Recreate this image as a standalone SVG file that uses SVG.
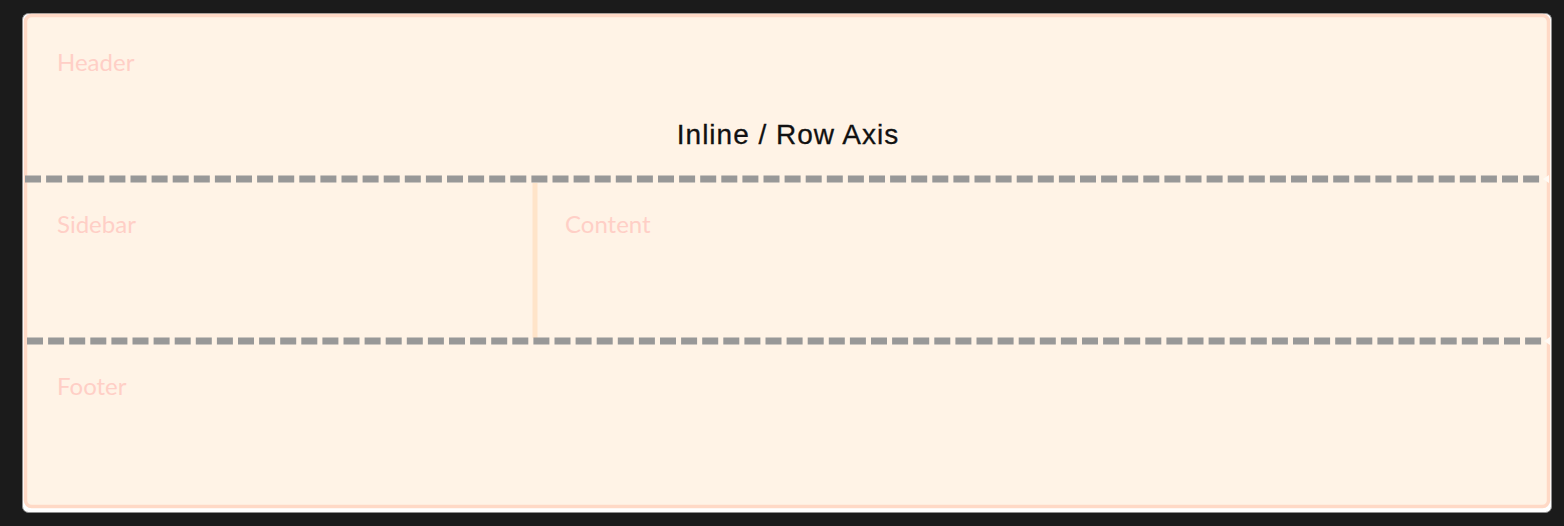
<svg xmlns="http://www.w3.org/2000/svg" width="1564" height="526" viewBox="0 0 1564 526">
  <defs>
    <style>
      .area { fill: #ffcfc6; font-family: "Lato", "Liberation Sans", sans-serif; font-size: 24px; }
      .axis { fill: #111111; font-family: "Liberation Sans", Arial, sans-serif; font-size: 28px; letter-spacing: 1px; stroke: #111111; stroke-width: 0.3px; }
      .track { fill: none; stroke: #989898; stroke-width: 7; stroke-dasharray: 16 5.1; }
    </style>
  </defs>
  <rect x="0" y="0" width="1564" height="526" fill="#1b1b1b"/>
  <g id="grid">
    <rect x="22.5" y="13.5" width="1529" height="499" rx="6" fill="#ffffff" stroke="#8e8e8e" stroke-width="1"/>
    <rect x="25.5" y="15.5" width="1523" height="491" rx="6" fill="#fff3e6" stroke="#ffd9c6" stroke-width="3.5"/>
  </g>
  <g id="header">
    <text class="area" x="57" y="71">Header</text>
  </g>
  <g id="sidebar">
    <text class="area" x="57" y="233">Sidebar</text>
  </g>
  <g id="content">
    <text class="area" x="565" y="233">Content</text>
  </g>
  <g id="footer">
    <text class="area" x="57" y="395">Footer</text>
  </g>
  <g id="axis-label">
    <text class="axis" x="788" y="144" text-anchor="middle">Inline / Row Axis</text>
  </g>
  <g id="connectors">
    <line x1="535" y1="183" x2="535" y2="338" stroke="#ffe4c9" stroke-width="5"/>
    <line class="track" x1="25" y1="179" x2="1540" y2="179"/>
    <line class="track" x1="27" y1="341" x2="1542" y2="341"/>
    <path d="M1543,179 L1549,175 L1549,183 Z" fill="#fffaf4"/>
    <path d="M1544,341 L1550,337 L1550,345 Z" fill="#fffaf4"/>
  </g>
</svg>
